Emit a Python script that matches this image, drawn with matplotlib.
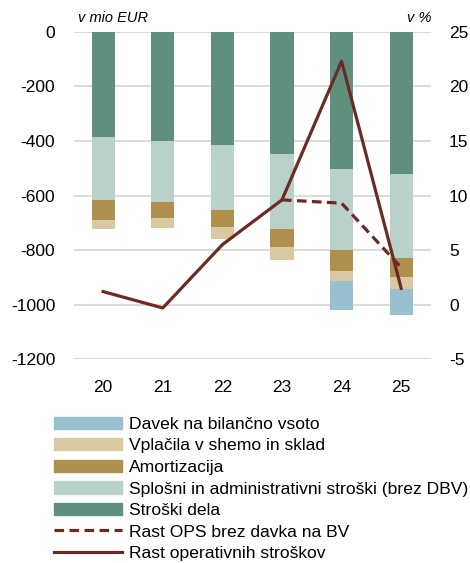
import numpy as np
import matplotlib.pyplot as plt
from matplotlib.patches import Patch
from matplotlib.lines import Line2D

plt.rcParams['font.family'] = ['Liberation Sans', 'DejaVu Sans']
plt.rcParams['axes.unicode_minus'] = False

# leta in stroški (v mio EUR, negativno)
years = ['20', '21', '22', '23', '24', '25']
stroski_dela = [386, 400, 415, 449, 503, 522]
splosni = [232, 223, 239, 273, 298, 306]
amortizacija = [72, 60, 62, 67, 74, 71]
vplacila = [32, 37, 44, 47, 38, 44]
davek_bv = [0, 0, 0, 0, 107, 94]

# rast stroškov (v %)
rast_ops = [1.2, -0.3, 5.5, 9.6, 22.3, 1.5]
rast_brez_dbv = [np.nan, np.nan, np.nan, 9.6, 9.3, 3.4]

c_dela = '#5f907e'
c_splosni = '#b9d1c8'
c_amort = '#b0904e'
c_vplac = '#d8c9a2'
c_davek = '#99c0cf'
c_line = '#6b2b22'
dash = (0, (3, 1.7))

fig = plt.figure(figsize=(4.70, 5.63), dpi=100)
ax = fig.add_axes([0.1574, 0.3618, 0.7596, 0.5819])

x = np.arange(len(years))
w = 0.39
bottom = np.zeros(len(years))
for vals, col in [(stroski_dela, c_dela), (splosni, c_splosni),
                  (amortizacija, c_amort), (vplacila, c_vplac),
                  (davek_bv, c_davek)]:
    v = -np.array(vals, dtype=float)
    ax.bar(x, v, w, bottom=bottom, color=col, zorder=2)
    bottom += v

ax.set_ylim(-1200, 0)
ax.set_yticks(np.arange(-1200, 1, 200))
ax.set_xlim(-0.49, 5.5)
ax.set_xticks(x)
ax.set_xticklabels(years)
ax.grid(axis='y', color='#d4d4d4', lw=1.2, zorder=0)
ax.set_axisbelow(True)
for s in ax.spines.values():
    s.set_visible(False)
ax.tick_params(length=0, labelsize=12.5, pad=13.5)
ax.tick_params(axis='x', pad=15)

ax2 = ax.twinx()
ax2.plot(x, rast_brez_dbv, color=c_line, lw=2.3, ls=dash, zorder=3)
ax2.plot(x, rast_ops, color=c_line, lw=2.3, zorder=4)
ax2.set_ylim(-5, 25)
ax2.set_yticks(np.arange(-5, 26, 5))
for s in ax2.spines.values():
    s.set_visible(False)
ax2.tick_params(length=0, labelsize=12.5, pad=13)

fig.text(0.166, 0.968, 'v mio EUR', style='italic', fontsize=10.5,
         ha='left', va='center')
fig.text(0.918, 0.968, 'v %', style='italic', fontsize=10.5,
         ha='right', va='center')

handles = [
    Patch(color=c_davek), Patch(color=c_vplac), Patch(color=c_amort),
    Patch(color=c_splosni), Patch(color=c_dela),
    Line2D([], [], color=c_line, lw=2.3, ls=dash),
    Line2D([], [], color=c_line, lw=2.3),
]
labels = ['Davek na bilančno vsoto', 'Vplačila v shemo in sklad',
          'Amortizacija', 'Splošni in administrativni stroški (brez DBV)',
          'Stroški dela', 'Rast OPS brez davka na BV',
          'Rast operativnih stroškov']
fig.legend(handles, labels, loc='upper left', bbox_to_anchor=(0.115, 0.26),
           frameon=False, fontsize=12.6, handlelength=3.9, handletextpad=0.4,
           labelspacing=0.36, borderpad=0, borderaxespad=0)

fig.savefig('out.png', dpi=100)
